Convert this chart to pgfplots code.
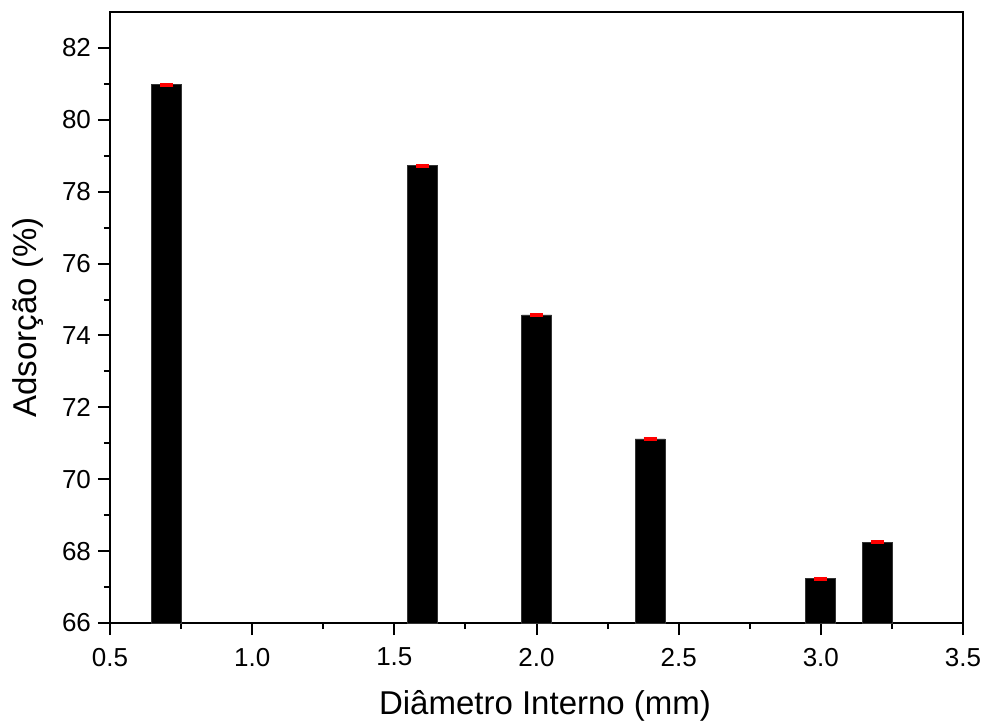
\documentclass[border=0pt]{standalone}
\usepackage{pgfplots}
\pgfplotsset{compat=1.18}
\usepackage{fontspec}
\setmainfont{Liberation Sans}

\begin{document}
\begin{tikzpicture}
\begin{axis}[
  name=ax,
  scale only axis,
  width=426.5pt, height=305.5pt,
  xmin=0.5, xmax=3.5,
  ymin=66, ymax=83,
  xtick={0.5,1.0,...,3.5},
  ytick={66,68,...,82},
  minor x tick num=1,
  minor y tick num=1,
  tick align=outside,
  tick pos=left,
  major tick length=6pt,
  minor tick length=3pt,
  every tick/.style={black, line width=1pt},
  axis line style={line width=1pt},
  /pgf/number format/assume math mode=true,
  xticklabel style={/pgf/number format/fixed, /pgf/number format/fixed zerofill, /pgf/number format/precision=1},
  xticklabel shift=3pt,
  ticklabel style={font=\fontsize{13}{15}\selectfont},
  label style={font=\fontsize{16.5}{20}\selectfont},
  xlabel={Diâmetro Interno (mm)},
  ylabel={Adsorção (\%)},
  xlabel style={at={(axis description cs:0.51,-0.136)}, anchor=center},
  ylabel style={at={(axis description cs:-0.096,0.5)}, anchor=center},
  clip=false,
]
\addplot[
  ybar, bar width=15pt, fill=black, draw=black!80, line width=0.4pt,
  error bars/.cd, y dir=both, y explicit,
  error bar style={red, line width=1.2pt},
  error mark options={red, line width=1.2pt, mark size=3.25pt, rotate=90},
] table[x=d, y=ads, y error=err] {
d    ads    err
0.7  80.98  0.02
1.6  78.72  0.02
2.0  74.57  0.02
2.4  71.12  0.02
3.0  67.23  0.02
3.2  68.25  0.02
};
\end{axis}
\pgfresetboundingbox
\path ([xshift=-55pt,yshift=-50.5pt]ax.south west) rectangle ([xshift=10.5pt,yshift=6pt]ax.north east);
\end{tikzpicture}
\end{document}
